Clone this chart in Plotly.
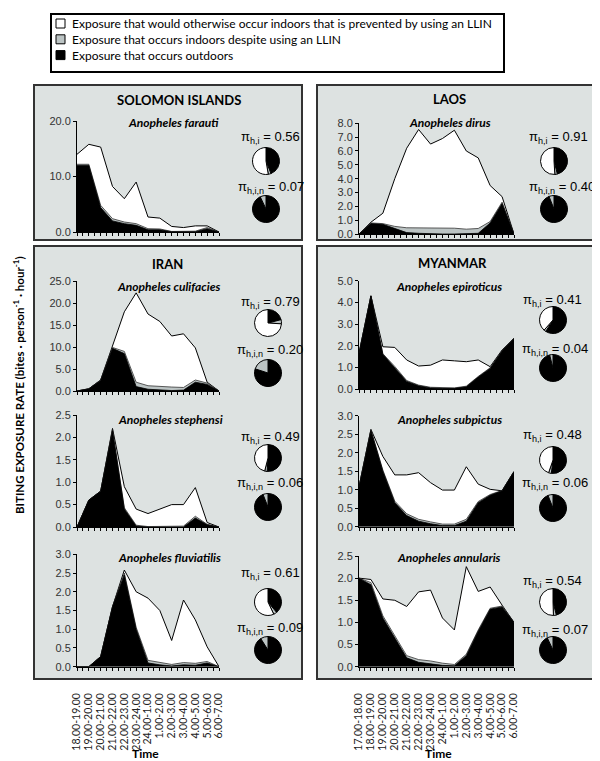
import plotly.graph_objects as go

W, H = 600, 761

# ---------------- DATA ----------------
hours_left = ["18.00-19.00", "19.00-20.00", "20.00-21.00", "21.00-22.00", "22.00-23.00",
              "23.00-24.00", "24.00-1.00", "1.00-2.00", "2.00-3.00", "3.00-4.00",
              "4.00-5.00", "5.00-6.00", "6.00-7.00"]
hours_right = ["17.00-18.00", "18.00-19.00", "19.00-20.00", "20.00-21.00", "21.00-22.00",
               "22.00-23.00", "23.00-24.00", "24.00-1.00", "1.00-2.00", "2.00-3.00",
               "3.00-4.00", "4.00-5.00", "5.00-6.00", "6.00-7.00"]

legend_labels = ["Exposure that would otherwise occur indoors that is prevented by using an LLIN",
                 "Exposure that occurs indoors despite using an LLIN",
                 "Exposure that occurs outdoors"]

countries = ["SOLOMON ISLANDS", "LAOS", "IRAN", "MYANMAR"]
species = ["Anopheles farauti", "Anopheles dirus", "Anopheles culifacies", "Anopheles stephensi",
           "Anopheles fluviatilis", "Anopheles epiroticus", "Anopheles subpictus", "Anopheles annularis"]

# total exposure (no LLIN), exposure when using LLIN (outdoor + indoor despite LLIN), outdoor exposure
farauti_total = [14.0, 15.8, 15.3, 8.2, 6.0, 9.0, 2.7, 2.5, 1.0, 0.8, 1.1, 1.1, 0.0]
farauti_with_llin = [12.2, 12.2, 4.8, 2.4, 1.8, 1.5, 0.6, 0.55, 0.1, 0.1, 0.15, 0.8, 0.0]
farauti_outdoor = [12.0, 12.0, 4.4, 2.0, 1.5, 1.2, 0.4, 0.4, 0.05, 0.05, 0.05, 0.6, 0.0]

dirus_total = [0.0, 0.85, 1.5, 4.0, 6.2, 7.55, 6.5, 6.9, 7.5, 6.0, 5.5, 3.5, 2.7, 0.0]
dirus_with_llin = [0.0, 0.8, 0.75, 0.55, 0.45, 0.45, 0.4, 0.4, 0.42, 0.35, 0.4, 0.9, 2.3, 0.0]
dirus_outdoor = [0.0, 0.75, 0.7, 0.4, 0.1, 0.05, 0.0, 0.0, 0.0, 0.0, 0.05, 0.8, 2.2, 0.0]

culifacies_total = [0.0, 0.5, 2.5, 10.0, 18.0, 22.3, 17.5, 15.8, 12.5, 13.0, 9.8, 2.0, 0.0]
culifacies_with_llin = [0.0, 0.5, 2.5, 9.9, 9.0, 2.0, 1.2, 1.0, 0.9, 0.8, 2.5, 1.8, 0.0]
culifacies_outdoor = [0.0, 0.5, 2.4, 9.7, 8.5, 1.0, 0.4, 0.2, 0.1, 0.2, 2.0, 1.5, 0.0]

stephensi_total = [0.0, 0.6, 0.8, 2.2, 0.9, 0.4, 0.3, 0.4, 0.5, 0.5, 0.88, 0.1, 0.0]
stephensi_with_llin = [0.0, 0.6, 0.8, 2.17, 0.43, 0.04, 0.01, 0.01, 0.01, 0.02, 0.24, 0.06, 0.0]
stephensi_outdoor = [0.0, 0.6, 0.8, 2.15, 0.4, 0.02, 0.0, 0.0, 0.0, 0.0, 0.2, 0.05, 0.0]

fluviatilis_total = [0.0, 0.0, 0.27, 1.6, 2.58, 2.0, 1.83, 1.5, 0.7, 1.78, 1.25, 0.53, 0.0]
fluviatilis_with_llin = [0.0, 0.0, 0.27, 1.6, 2.5, 1.05, 0.17, 0.11, 0.06, 0.11, 0.09, 0.14, 0.0]
fluviatilis_outdoor = [0.0, 0.0, 0.27, 1.6, 2.45, 1.0, 0.1, 0.05, 0.02, 0.05, 0.04, 0.1, 0.0]

epiroticus_total = [1.65, 4.3, 1.95, 1.92, 1.34, 1.06, 1.1, 1.34, 1.3, 1.26, 1.34, 1.03, 1.8, 2.34]
epiroticus_with_llin = [1.65, 4.3, 1.63, 1.04, 0.39, 0.18, 0.08, 0.05, 0.05, 0.13, 0.58, 0.98, 1.77, 2.34]
epiroticus_outdoor = [1.65, 4.3, 1.6, 1.0, 0.35, 0.15, 0.05, 0.03, 0.03, 0.1, 0.55, 0.95, 1.75, 2.34]

subpictus_total = [1.08, 2.63, 1.9, 1.4, 1.4, 1.46, 1.19, 0.99, 0.99, 1.62, 1.15, 1.01, 0.97, 1.49]
subpictus_with_llin = [1.08, 2.62, 1.53, 0.69, 0.35, 0.2, 0.13, 0.07, 0.07, 0.2, 0.68, 0.87, 0.98, 1.49]
subpictus_outdoor = [1.08, 2.6, 1.5, 0.65, 0.3, 0.15, 0.08, 0.03, 0.03, 0.15, 0.65, 0.85, 0.97, 1.49]

annularis_total = [2.0, 1.97, 1.53, 1.5, 1.36, 1.69, 1.73, 1.1, 0.83, 2.26, 1.7, 1.8, 1.39, 1.0]
annularis_with_llin = [2.0, 1.9, 1.15, 0.7, 0.25, 0.16, 0.13, 0.08, 0.05, 0.28, 0.83, 1.32, 1.37, 1.0]
annularis_outdoor = [2.0, 1.85, 1.1, 0.65, 0.2, 0.1, 0.07, 0.03, 0.02, 0.25, 0.8, 1.3, 1.35, 1.0]

# proportion of exposure indoors (no LLIN) and with LLIN
pi_hi = [0.56, 0.91, 0.79, 0.49, 0.61, 0.41, 0.48, 0.54]
pi_hin = [0.07, 0.40, 0.20, 0.06, 0.09, 0.04, 0.06, 0.07]

# pie slices: [outdoor, indoor despite LLIN, prevented]  and [outdoor, indoor despite LLIN]
pie1_values = [[0.44, 0.033, 0.527], [0.46, 0.03, 0.51], [0.21, 0.05, 0.74], [0.51, 0.03, 0.46],
               [0.39, 0.04, 0.57], [0.59, 0.025, 0.385], [0.52, 0.033, 0.447], [0.46, 0.035, 0.505]]
pie2_values = [[0.93, 0.07], [0.94, 0.06], [0.80, 0.20], [0.94, 0.06],
               [0.91, 0.09], [0.96, 0.04], [0.94, 0.06], [0.93, 0.07]]

series = [
    (farauti_total, farauti_with_llin, farauti_outdoor),
    (dirus_total, dirus_with_llin, dirus_outdoor),
    (culifacies_total, culifacies_with_llin, culifacies_outdoor),
    (stephensi_total, stephensi_with_llin, stephensi_outdoor),
    (fluviatilis_total, fluviatilis_with_llin, fluviatilis_outdoor),
    (epiroticus_total, epiroticus_with_llin, epiroticus_outdoor),
    (subpictus_total, subpictus_with_llin, subpictus_outdoor),
    (annularis_total, annularis_with_llin, annularis_outdoor),
]

# ---------------- LAYOUT (pixels, screen coordinates) ----------------
WHITE, GRAY, BLACK = "#ffffff", "#bcc4c4", "#000000"
PANEL_BG = "#dde2e1"
CAL = "Lato, 'Open Sans', sans-serif"
ARIAL = "'Liberation Sans', Arial, sans-serif"
OFF = 8  # page body margin

# x0, x1, y_top, y_bottom, ymax, dtick
plots = [
    (77, 219, 121, 232, 20, 10),
    (359, 514, 123.3, 234, 8, 1),
    (77, 219, 281, 391, 25, 5),
    (77, 219, 415, 527, 2.5, 0.5),
    (77, 219, 554.3, 666.7, 3, 0.5),
    (359, 514, 280.7, 389, 5, 1),
    (359, 514, 415.7, 526.7, 3, 0.5),
    (359, 514, 556, 666.7, 2.5, 0.5),
]
species_pos = [(173, 123), (450, 123), (169, 286), (170, 419), (169, 557), (449, 286), (449, 419), (449, 557)]
pie_centers = [((266, 161), (266, 209)), ((554, 161), (554, 209)), ((268, 323), (268, 373)),
               ((268, 458), (268, 507)), ((268, 602), (268, 650)), ((553, 320), (553, 368)),
               ((553, 460), (553, 508)), ((553, 602), (553, 650))]
pi_pos = [((270, 137), (271, 188)), ((558, 137), (562, 187)), ((270, 302), (270, 350)),
          ((270, 437), (270, 484)), ((270, 573), (270, 628)), ((552, 300), (555, 349)),
          ((552, 435), (555, 484)), ((552, 581), (555, 630))]
PIE_R = 13.5


def px(x):
    return (x - OFF) / W


def py(y):
    return 1 - (y - OFF) / H


def note(x, y, text, size, family, **kw):
    d = dict(x=px(x), y=py(y), xref="paper", yref="paper", showarrow=False, text=text,
             xanchor="center", yanchor="middle", font=dict(family=family, size=size, color="black"))
    d.update(kw)
    return d


fig = go.Figure()
layout = dict(width=W, height=H, margin=dict(l=0, r=0, t=0, b=0, autoexpand=False),
              paper_bgcolor="white", plot_bgcolor="rgba(0,0,0,0)", showlegend=False)
shapes, annotations = [], []

for i, ((tot, llin, out), (x0, x1, yt, yb, ymax, dt)) in enumerate(zip(series, plots)):
    n = i + 1
    xa, ya = f"x{n}", f"y{n}"
    xs = list(range(len(tot)))
    for vals, col, lc, lw in ((tot, WHITE, BLACK, 1.0), (llin, GRAY, "#333333", 0.8), (out, BLACK, BLACK, 0.8)):
        fig.add_trace(go.Scatter(x=xs, y=vals, mode="lines", fill="tozeroy", fillcolor=col,
                                 line=dict(color=lc, width=lw), xaxis=xa, yaxis=ya,
                                 hoverinfo="skip"))
    layout[f"xaxis{n}"] = dict(domain=[px(x0), px(x1)], range=[0, len(tot) - 1], anchor=ya,
                               showline=True, linecolor="black", linewidth=1, ticks="outside",
                               ticklen=3, tickcolor="black", tick0=0, dtick=0.5, automargin=False,
                               showticklabels=False, showgrid=False, zeroline=False)
    layout[f"yaxis{n}"] = dict(domain=[py(yb), py(yt)], range=[0, ymax], anchor=xa,
                               showline=True, linecolor="black", linewidth=1, ticks="outside",
                               ticklen=3, tickcolor="black", tick0=0, dtick=dt, tickformat=".1f",
                               tickfont=dict(family=ARIAL, size=11, color="#333333"), automargin=False,
                               showgrid=False, zeroline=False)
    sx, sy = species_pos[i]
    annotations.append(note(sx, sy, f"<b><i>{species[i]}</i></b>", 12, CAL))
    (c1x, c1y), (c2x, c2y) = pie_centers[i]
    for (cx, cy), vals, cols in (((c1x, c1y), pie1_values[i], [BLACK, GRAY, WHITE]),
                                 ((c2x, c2y), pie2_values[i], [BLACK, GRAY])):
        fig.add_trace(go.Pie(values=vals, sort=False, direction="clockwise", rotation=0,
                             marker=dict(colors=cols, line=dict(color="black", width=1)),
                             textinfo="none", hoverinfo="skip", showlegend=False,
                             domain=dict(x=[px(cx - PIE_R), px(cx + PIE_R)],
                                         y=[py(cy + PIE_R), py(cy - PIE_R)])))
    (p1x, p1y), (p2x, p2y) = pi_pos[i]
    annotations.append(note(p1x, p1y, f"π<sub>h,i</sub> = {pi_hi[i]:.2f}", 13, ARIAL))
    annotations.append(note(p2x, p2y, f"π<sub>h,i,n</sub> = {pi_hin[i]:.2f}", 13, ARIAL))

# time label axes (free axes under the panels)
for n, ref, labels in ((9, 5, hours_left), (10, 8, hours_right)):
    fig.add_trace(go.Scatter(x=[0, len(labels) - 1], y=[0, 0], mode="markers",
                             marker=dict(opacity=0), xaxis=f"x{n}", yaxis=f"y{ref}",
                             hoverinfo="skip"))
    layout[f"xaxis{n}"] = dict(overlaying=f"x{ref}", anchor="free", position=py(690),
                               range=[0, len(labels) - 1], tickvals=list(range(len(labels))),
                               ticktext=labels, tickangle=-90, ticks="", showline=False,
                               showgrid=False, zeroline=False, automargin=False,
                               tickfont=dict(family=CAL, size=10.5, color="#222222"))

# panels
panels = [(34, 302, 85, 240), (317, 593, 85, 240), (34, 302, 246, 679), (317, 593, 246, 679)]
for x0, x1, y0, y1 in panels:
    shapes.append(dict(type="rect", xref="paper", yref="paper", x0=px(x0), x1=px(x1), y0=py(y1), y1=py(y0),
                       fillcolor=PANEL_BG, line=dict(color="#333333", width=2), layer="below"))
title_pos = [(179, 100), (449, 99), (167, 264), (452, 263)]
for name, (tx, ty) in zip(countries, title_pos):
    annotations.append(note(tx, ty, f"<b>{name}</b>", 13, CAL))

# legend box
shapes.append(dict(type="rect", xref="paper", yref="paper", x0=px(51), x1=px(504), y0=py(72), y1=py(14),
                   fillcolor="white", line=dict(color="black", width=2), layer="below"))
for k, (lab, col) in enumerate(zip(legend_labels, [WHITE, GRAY, BLACK])):
    cy = 23.5 + 15.8 * k
    shapes.append(dict(type="rect", xref="paper", yref="paper", x0=px(56), x1=px(65),
                       y0=py(cy + 4.5), y1=py(cy - 4.5), fillcolor=col,
                       line=dict(color="black", width=1)))
    annotations.append(note(70, cy, lab, 12, CAL, xanchor="left"))

# axis titles
annotations.append(note(18, 385, "<b>BITING EXPOSURE RATE (bites · person<sup>-1</sup> · hour<sup>-1</sup>)</b>",
                        11.5, CAL, textangle=-90))
for tx in (145, 438):
    annotations.append(note(tx, 753, "<b>Time</b>", 12, CAL))

layout["shapes"] = shapes
layout["annotations"] = annotations
fig.update_layout(**layout)
fig.write_html("out.html")
